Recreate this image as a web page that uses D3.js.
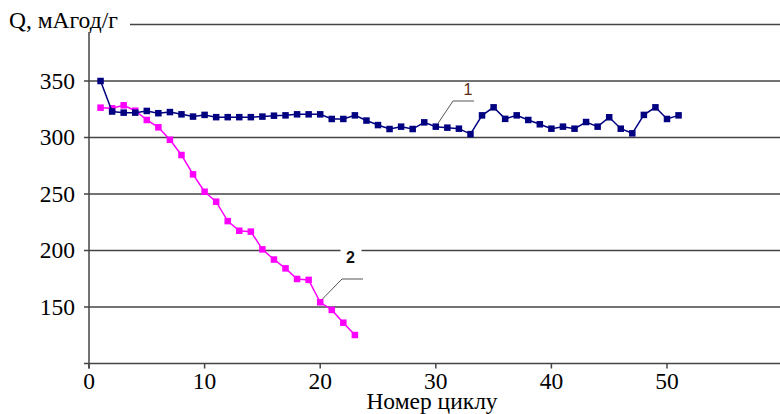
<!DOCTYPE html>
<html>
<head>
<meta charset="utf-8">
<script src="https://cdn.jsdelivr.net/npm/d3@7"></script>
<style>
  body { margin: 0; background: #fff; }
  svg { display: block; }
</style>
</head>
<body>
<div id="chart"></div>
<script>
// Data
var cycles1 = d3.range(1, 52);
var q1 = [350, 323, 322, 322, 323.5, 321.5, 322.5, 320.5, 318.5, 320,
          318, 318, 318, 318, 318.5, 319.3, 319.6, 320.5, 320.5, 320.5,
          316.4, 316.4, 319.6, 315, 311, 307.5, 309.6, 307.5, 313.4, 309.6,
          308.7, 307.8, 303, 319.6, 326.7, 316.5, 319.6, 315.5, 311.7, 307.8,
          309.6, 307.8, 313.7, 309.6, 317.9, 307.8, 303.7, 320, 326.7, 316.4,
          319.6];
var cycles2 = d3.range(1, 24);
var q2 = [326.4, 325.8, 328.5, 323.7, 315.5, 309, 298, 284.5, 267.4, 252,
          243.2, 226, 217.5, 216.7, 201, 192, 184.2, 174.8, 174, 154.2,
          147.4, 136.1, 125.2];
var yTicks = [150, 200, 250, 300, 350];
var gridValues = [150, 200, 250, 300, 350, 400];
var xTicks = [0, 10, 20, 30, 40, 50];

var serif = "'Liberation Serif', 'DejaVu Serif', 'Times New Roman', serif";
var width = 780, height = 414;
var svg = d3.select("#chart").append("svg")
    .attr("width", width)
    .attr("height", height);

var x = d3.scaleLinear().domain([0, 60]).range([89, 782.6]);
var y = d3.scaleLinear().domain([100, 400]).range([363.5, 24.5]);

// gridlines (400 line starts after the title)
svg.selectAll(".grid")
    .data(gridValues)
  .enter().append("line")
    .attr("class", "grid")
    .attr("x1", function(d) { return d == 400 ? 130 : 84; })
    .attr("x2", width)
    .attr("y1", function(d) { return y(d); })
    .attr("y2", function(d) { return y(d); })
    .attr("stroke", "#444")
    .attr("stroke-width", 1.5);

// axes
svg.append("line")
    .attr("x1", x(0)).attr("x2", x(0))
    .attr("y1", 32).attr("y2", y(100) + 5)
    .attr("stroke", "#444").attr("stroke-width", 1.5);
svg.append("line")
    .attr("x1", 84).attr("x2", width)
    .attr("y1", y(100)).attr("y2", y(100))
    .attr("stroke", "#444").attr("stroke-width", 1.5);

svg.selectAll(".xtick")
    .data(xTicks)
  .enter().append("line")
    .attr("class", "xtick")
    .attr("x1", function(d) { return x(d); })
    .attr("x2", function(d) { return x(d); })
    .attr("y1", y(100))
    .attr("y2", y(100) + 5)
    .attr("stroke", "#444").attr("stroke-width", 1.5);

function serifText(sel) {
  return sel.style("font-family", serif).style("font-size", "23.5px").attr("fill", "#000");
}

svg.selectAll(".ylabel")
    .data(yTicks)
  .enter().append("text")
    .attr("x", 75)
    .attr("y", function(d) { return y(d) + 7.5; })
    .attr("text-anchor", "end")
    .call(serifText)
    .text(function(d) { return d; });

svg.selectAll(".xlabel")
    .data(xTicks)
  .enter().append("text")
    .attr("x", function(d) { return x(d); })
    .attr("y", 389)
    .attr("text-anchor", "middle")
    .call(serifText)
    .text(function(d) { return d; });

// titles
svg.append("text")
    .attr("x", 9)
    .attr("y", 28)
    .call(serifText)
    .text("Q, мАгод/г");

svg.append("text")
    .attr("x", 432)
    .attr("y", 409)
    .attr("text-anchor", "middle")
    .call(serifText)
    .text("Номер циклу");

// series
var line = d3.line()
    .x(function(d) { return x(d[0]); })
    .y(function(d) { return y(d[1]); });

function drawSeries(xs, ys, color, size) {
  var pts = xs.map(function(c, i) { return [c, ys[i]]; });
  svg.append("path")
      .datum(pts)
      .attr("d", line)
      .attr("fill", "none")
      .attr("stroke", color)
      .attr("stroke-width", 1.5);
  svg.append("g").selectAll("rect")
      .data(pts)
    .enter().append("rect")
      .attr("x", function(d) { return x(d[0]) - size / 2; })
      .attr("y", function(d) { return y(d[1]) - size / 2; })
      .attr("width", size)
      .attr("height", size)
      .attr("fill", color);
}

drawSeries(cycles2, q2, "#ff00ff", 6.5);
drawSeries(cycles1, q1, "#000080", 6.5);

// callouts
var callouts = [
  { label: "1", at: [30, q1[29]], knee: [453, 101], end: [474, 101], tx: 468, ty: 95, color: "#5a2e10" },
  { label: "2", at: [20, q2[19]], knee: [342, 279], end: [363, 279], tx: 350.5, ty: 263, color: "#111" }
];
callouts.forEach(function(c) {
  if (c.label == "2") {
    svg.append("rect")
        .attr("x", c.tx - 10).attr("y", c.ty - 15)
        .attr("width", 21).attr("height", 18)
        .attr("fill", "#fff");
  }
  svg.append("polyline")
      .attr("points", [[x(c.at[0]) + 2, y(c.at[1]) - 3], c.knee, c.end].map(function(p) { return p.join(","); }).join(" "))
      .attr("fill", "none")
      .attr("stroke", "#555")
      .attr("stroke-width", 1);
  svg.append("text")
      .attr("x", c.tx)
      .attr("y", c.ty)
      .attr("text-anchor", "middle")
      .style("font-family", "'Liberation Sans', Arial, sans-serif")
      .style("font-size", "16px")
      .style("font-weight", c.label == "2" ? "bold" : "normal")
      .attr("fill", c.color)
      .text(c.label);
});
</script>
</body>
</html>
